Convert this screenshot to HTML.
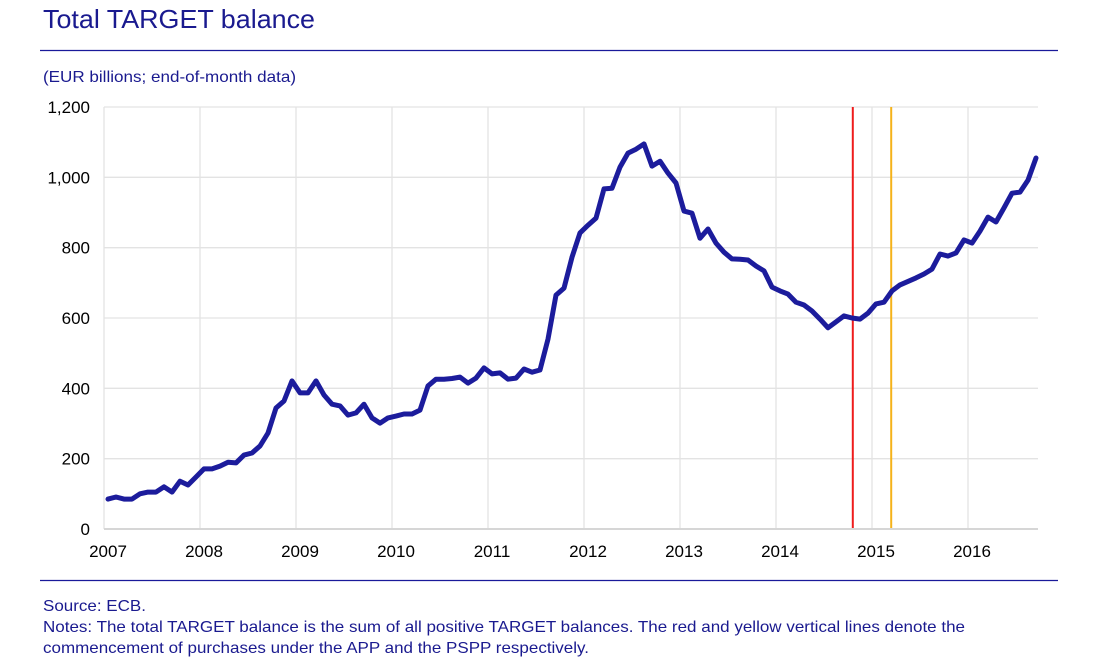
<!DOCTYPE html>
<html><head><meta charset="utf-8"><style>
body{margin:0;background:#fff;width:1097px;height:669px;overflow:hidden;font-family:"Liberation Sans",Arial,sans-serif}
svg{display:block}
</style></head><body>
<svg id="chart" width="1097" height="669">
<text x="43" y="28" font-size="26" fill="#1a1a8f" textLength="272" lengthAdjust="spacingAndGlyphs">Total TARGET balance</text>
<line x1="40" y1="50.5" x2="1058" y2="50.5" stroke="#1a1a9a" stroke-width="1.2"/>
<text x="43" y="82" font-size="16" fill="#1a1a8f" textLength="253" lengthAdjust="spacingAndGlyphs">(EUR billions; end-of-month data)</text>
<g id="grid"></g><g id="marks"></g><g id="axes"></g>
<line x1="40" y1="580.5" x2="1058" y2="580.5" stroke="#1a1a9a" stroke-width="1.2"/>
<text x="43" y="611" font-size="16" fill="#1a1a8f" textLength="103" lengthAdjust="spacingAndGlyphs">Source: ECB.</text>
<text x="43" y="632" font-size="16" fill="#1a1a8f" textLength="922" lengthAdjust="spacingAndGlyphs">Notes: The total TARGET balance is the sum of all positive TARGET balances. The red and yellow vertical lines denote the</text>
<text x="43" y="653" font-size="16" fill="#1a1a8f" textLength="546" lengthAdjust="spacingAndGlyphs">commencement of purchases under the APP and the PSPP respectively.</text>
</svg>
<script>
const yTicks=[0,200,400,600,800,1000,1200];
const yTickLabels=["0","200","400","600","800","1,000","1,200"];
const xYears=[2007,2008,2009,2010,2011,2012,2013,2014,2015,2016];
const startYear=2007;
const values=[85,91,85,85,100,105,105,120,105,136,125,148,
171,171,179,190,188,210,216,236,273,344,364,421,
387,387,421,381,355,350,324,330,355,316,301,316,
321,327,327,338,407,426,426,428,432,415,429,458,
441,444,426,429,455,446,452,540,665,685,773,842,
864,884,967,969,1029,1069,1080,1095,1032,1046,1012,984,
904,898,827,853,813,787,768,767,765,748,734,688,
677,668,645,637,620,597,572,589,606,600,597,614,
640,645,677,694,704,714,725,739,782,776,785,822,
813,847,887,873,913,955,958,992,1055];
const eventDates=[2014.8,2015.2];
const eventColors=["#ee1c1c","#f5b21a"];
const eventNames=["app-start-line","pspp-start-line"];

const NS="http://www.w3.org/2000/svg";
const X0=104,PXY=96,Y0=529,Y1=107;
function xs(t){return X0+(t-startYear)*PXY;}
function ys(v){return Y0-(v/1200)*(Y0-Y1);}
function mk(tag,attrs,parent){const e=document.createElementNS(NS,tag);for(const k in attrs)e.setAttribute(k,attrs[k]);parent.appendChild(e);return e;}
const grid=document.getElementById('grid'),marks=document.getElementById('marks'),axes=document.getElementById('axes');
const R=1038;
yTicks.forEach((v,i)=>{
  if(v>0){const l=mk('line',{x1:X0,x2:R,y1:ys(v),y2:ys(v),stroke:'#e3e3e3','stroke-width':1.3},grid);
  
  }
  const t=mk('text',{x:90,y:ys(v)+6,'font-size':17,'text-anchor':'end',fill:'#000'},axes);
  t.textContent=yTickLabels[i];
  
  
});
xYears.forEach(y=>{
  const l=mk('line',{x1:xs(y),x2:xs(y),y1:Y1,y2:Y0,stroke:'#e3e3e3','stroke-width':1.3},grid);
  
  
  const t=mk('text',{x:xs(y)+4,y:557,'font-size':17,'text-anchor':'middle',fill:'#000'},axes);
  t.textContent=String(y);
  
  
});
const ax=mk('line',{x1:X0,x2:R,y1:Y0,y2:Y0,stroke:'#d6d6d6','stroke-width':2},axes);


eventDates.forEach((d,i)=>{
  const l=mk('line',{x1:xs(d),x2:xs(d),y1:Y1,y2:Y0,stroke:eventColors[i],'stroke-width':2},marks);
  
  
});
const pts=values.map((v,i)=>xs(startYear+(i+0.5)/12).toFixed(1)+','+ys(v).toFixed(1)).join(' ');
const pl=mk('polyline',{points:pts,fill:'none',stroke:'#1c1c9c','stroke-width':5,'stroke-linejoin':'round','stroke-linecap':'round'},marks);


</script>
</body></html>
